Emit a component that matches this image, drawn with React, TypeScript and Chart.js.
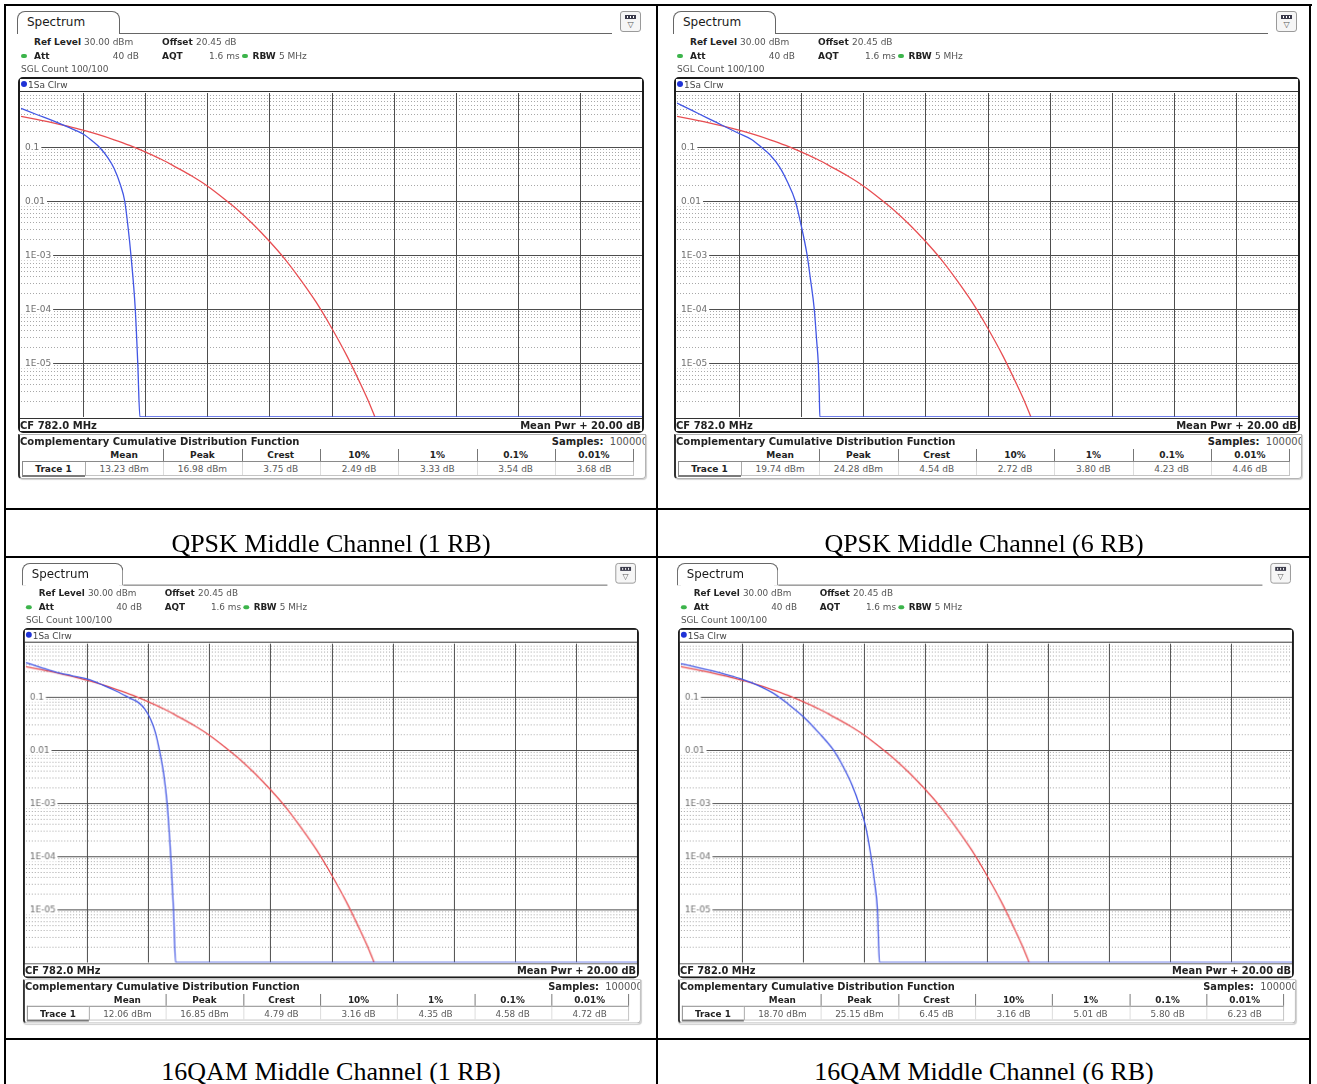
import React, { useEffect, useRef } from "react";
import { Chart, registerables } from "chart.js";

Chart.register(...registerables);

// ---------------- data ----------------
const xMinDb = 0;
const xMaxDb = 20;
const yMinProb = 1e-6;
const yMaxProb = 1;
const xMajorDb = [2, 4, 6, 8, 10, 12, 14, 16, 18];
const yTickValues = [0.1, 0.01, 1e-3, 1e-4, 1e-5];
const yTickLabels = ["0.1", "0.01", "1E-03", "1E-04", "1E-05"];
const yMinorFactors = [2, 3, 4, 5, 6, 7, 8, 9];
const yDecadeExps = [-6, -5, -4, -3, -2, -1];

// Gaussian reference trace (red)
const gaussDb = [0, 0.5, 1, 1.5, 2, 2.5, 3, 3.5, 4, 4.5, 5, 5.5, 6, 6.5, 7, 7.5, 8, 8.5, 9, 9.5, 10, 10.5, 11, 11.2, 11.4];
const gaussProb = [0.37, 0.326, 0.284, 0.243, 0.205, 0.169, 0.136, 0.107, 0.081, 0.06, 0.042, 0.029, 0.019, 0.0115, 0.0067, 0.0036, 0.0018, 0.00084, 0.00035, 0.000135, 0.000045, 0.0000134, 0.0000034, 0.0000019, 0.000001];

// Measured traces (blue)
const qpsk1Db = [0, 0.5, 1, 1.5, 2, 2.3, 2.52, 2.8, 3.0, 3.2, 3.34, 3.45, 3.54, 3.68, 3.76, 3.83, 20];
const qpsk1Prob = [0.52, 0.4, 0.31, 0.235, 0.174, 0.129, 0.1, 0.063, 0.04, 0.02, 0.01, 0.0032, 0.001, 0.0001, 0.00001, 0.000001, 0.000001];

const qpsk6Db = [0, 0.5, 1, 1.5, 2, 2.4, 2.71, 3.0, 3.3, 3.55, 3.81, 4.0, 4.19, 4.3, 4.42, 4.5, 4.55, 4.58, 4.6, 20];
const qpsk6Prob = [0.65, 0.47, 0.34, 0.245, 0.178, 0.138, 0.1, 0.071, 0.043, 0.023, 0.01, 0.0035, 0.001, 0.00035, 0.0001, 0.000025, 0.00001, 0.0000032, 0.000001, 0.000001];

const qam1Db = [0, 0.5, 1, 1.5, 2, 2.5, 3.0, 3.4, 3.7, 3.9, 4.08, 4.24, 4.37, 4.51, 4.62, 4.74, 4.83, 4.9, 20];
const qam1Prob = [0.44, 0.355, 0.29, 0.25, 0.216, 0.168, 0.125, 0.095, 0.077, 0.058, 0.038, 0.021, 0.0098, 0.0035, 0.001, 0.0001, 0.00001, 0.000001, 0.000001];

const qam6Db = [0, 0.5, 1, 1.5, 2, 2.5, 3.08, 3.5, 4.0, 4.5, 5.0, 5.3, 5.6, 5.85, 6.05, 6.22, 6.34, 6.43, 6.5, 20];
const qam6Prob = [0.42, 0.363, 0.31, 0.26, 0.214, 0.166, 0.112, 0.074, 0.0427, 0.0214, 0.0098, 0.005, 0.0022, 0.00089, 0.00035, 0.0001, 0.0000316, 0.00001, 0.000001, 0.000001];

// Result tables
const statHeaders = ["Mean", "Peak", "Crest", "10%", "1%", "0.1%", "0.01%"];
const qpsk1Stats = ["13.23 dBm", "16.98 dBm", "3.75 dB", "2.49 dB", "3.33 dB", "3.54 dB", "3.68 dB"];
const qpsk6Stats = ["19.74 dBm", "24.28 dBm", "4.54 dB", "2.72 dB", "3.80 dB", "4.23 dB", "4.46 dB"];
const qam1Stats = ["12.06 dBm", "16.85 dBm", "4.79 dB", "3.16 dB", "4.35 dB", "4.58 dB", "4.72 dB"];
const qam6Stats = ["18.70 dBm", "25.15 dBm", "6.45 dB", "3.16 dB", "5.01 dB", "5.80 dB", "6.23 dB"];

const captions = [
  "QPSK Middle Channel (1 RB)",
  "QPSK Middle Channel (6 RB)",
  "16QAM Middle Channel (1 RB)",
  "16QAM Middle Channel (6 RB)",
];

// ---------------- styles ----------------
const FONT = '"DejaVu Sans", Verdana, sans-serif';
const RED = "rgb(232, 78, 82)";
const BLUE = "rgb(66, 86, 228)";

const gridPlugin = {
  id: "ccdfGrid",
  beforeDraw(chart: any) {
    const { ctx, chartArea: a, scales } = chart;
    const x = scales.x;
    const y = scales.y;
    ctx.save();
    ctx.fillStyle = "#ffffff";
    ctx.fillRect(0, 0, chart.width, chart.height);
    // minor dotted lines
    ctx.strokeStyle = "#a8a8a8";
    ctx.lineWidth = 1;
    ctx.setLineDash([1, 2]);
    for (const e of yDecadeExps) {
      for (const k of yMinorFactors) {
        const py = Math.round(y.getPixelForValue(k * Math.pow(10, e))) + 0.5;
        ctx.beginPath();
        ctx.moveTo(a.left, py);
        ctx.lineTo(a.right, py);
        ctx.stroke();
      }
    }
    ctx.setLineDash([]);
    // major lines
    ctx.strokeStyle = "#4e4e4e";
    for (const v of yTickValues) {
      const py = Math.round(y.getPixelForValue(v)) + 0.5;
      ctx.beginPath();
      ctx.moveTo(a.left, py);
      ctx.lineTo(a.right, py);
      ctx.stroke();
    }
    for (const d of xMajorDb) {
      const px = Math.round(x.getPixelForValue(d)) + 0.5;
      ctx.beginPath();
      ctx.moveTo(px, a.top);
      ctx.lineTo(px, a.bottom);
      ctx.stroke();
    }
    // tick labels with white backdrop
    ctx.font = '9px "DejaVu Sans"';
    ctx.textBaseline = "middle";
    ctx.textAlign = "left";
    yTickValues.forEach((v, i) => {
      const py = Math.round(y.getPixelForValue(v)) + 0.5;
      const label = yTickLabels[i];
      const w = ctx.measureText(label).width;
      ctx.fillStyle = "#ffffff";
      ctx.fillRect(a.left, py - 5, w + 6, 10);
      ctx.fillStyle = "#707070";
      ctx.fillText(label, a.left + 4, py);
    });
    ctx.restore();
  },
};

function CcdfChart({ blueDb, blueProb }: { blueDb: number[]; blueProb: number[] }) {
  const ref = useRef<HTMLCanvasElement | null>(null);
  useEffect(() => {
    if (!ref.current) return;
    const chart = new Chart(ref.current, {
      type: "line",
      data: {
        datasets: [
          {
            data: blueDb.map((d, i) => ({ x: d, y: blueProb[i] })),
            borderColor: BLUE,
            borderWidth: 1.3,
            pointRadius: 0,
            fill: false,
            cubicInterpolationMode: "monotone",
          },
          {
            data: gaussDb.map((d, i) => ({ x: d, y: gaussProb[i] })),
            borderColor: RED,
            borderWidth: 1.3,
            pointRadius: 0,
            fill: false,
            cubicInterpolationMode: "monotone",
          },
        ],
      },
      options: {
        animation: false,
        responsive: false,
        maintainAspectRatio: false,
        events: [],
        layout: { padding: 2 },
        plugins: { legend: { display: false }, tooltip: { enabled: false } },
        scales: {
          x: { type: "linear", min: xMinDb, max: xMaxDb, display: false },
          y: { type: "logarithmic", min: yMinProb, max: yMaxProb, display: false },
        },
      },
      plugins: [gridPlugin],
    } as any);
    return () => chart.destroy();
  }, [blueDb, blueProb]);
  return (
    <canvas
      ref={ref}
      width={625}
      height={328}
      style={{ position: "absolute", left: 5, top: 81, width: 625, height: 328, zIndex: 1 }}
    />
  );
}

type TxtProps = {
  x: number;
  y: number;
  text: string;
  bold?: boolean;
  size?: number;
  color?: string;
  anchor?: "start" | "end" | "middle";
};

function Txt({ x, y, text, bold, size = 9, color = "#222", anchor = "start" }: TxtProps) {
  const lh = Math.round(size * 1.3);
  const style: React.CSSProperties = {
    position: "absolute",
    top: y - lh / 2,
    height: lh,
    lineHeight: lh + "px",
    fontSize: size,
    fontWeight: bold ? 700 : 400,
    color,
    whiteSpace: "nowrap",
    zIndex: 3,
  };
  if (anchor === "start") style.left = x;
  else if (anchor === "end") {
    style.left = x - 300;
    style.width = 300;
    style.textAlign = "right";
  } else {
    style.left = x - 100;
    style.width = 200;
    style.textAlign = "center";
  }
  return <div style={style}>{text}</div>;
}

function Box({ s }: { s: React.CSSProperties }) {
  return <div style={{ position: "absolute", boxSizing: "border-box", ...s }} />;
}

type PanelProps = {
  left: number;
  top: number;
  scale: number;
  blueDb: number[];
  blueProb: number[];
  stats: string[];
};

const COL0 = 71;
const COLW = 78.3;

function Panel({ left, top, scale, blueDb, blueProb, stats }: PanelProps) {
  return (
    <div
      style={{
        position: "absolute",
        left,
        top,
        width: 636,
        height: 472,
        transform: `scale(${scale})`,
        transformOrigin: "0 0",
        fontFamily: FONT,
        fontSize: 9,
        color: "#222",
      }}
    >
      {/* tab */}
      <Box
        s={{
          left: 3,
          top: 1,
          width: 103,
          height: 23,
          borderTop: "1px solid #666",
          borderLeft: "1px solid #666",
          borderRight: "1px solid #666",
          borderRadius: "8px 8px 0 0",
          background: "#fff",
        }}
      />
      <Txt x={13} y={12} text="Spectrum" size={12} color="#1a1a1a" />
      <Box s={{ left: 106, top: 23, width: 492, height: 1, background: "#666" }} />
      {/* icon */}
      <Box
        s={{
          left: 606,
          top: 1,
          width: 21,
          height: 21,
          border: "1px solid #9a9a9a",
          borderRadius: 3,
          background: "#f6f6f6",
        }}
      />
      <Box s={{ left: 611, top: 5, width: 11, height: 4, background: "#3a3a4a" }} />
      <Box s={{ left: 613, top: 6, width: 1, height: 2, background: "#fff" }} />
      <Box s={{ left: 616, top: 6, width: 1, height: 2, background: "#fff" }} />
      <Box s={{ left: 619, top: 6, width: 1, height: 2, background: "#fff" }} />
      <Txt x={616.5} y={15} text="▽" size={8} color="#555" anchor="middle" />

      {/* header info */}
      <Txt x={20} y={32} text="Ref Level" bold />
      <Txt x={70} y={32} text="30.00 dBm" color="#555" />
      <Txt x={148} y={32} text="Offset" bold />
      <Txt x={182} y={32} text="20.45 dB" color="#555" />
      <Box s={{ left: 7, top: 44, width: 6, height: 4, borderRadius: 2, background: "#3cb44b" }} />
      <Txt x={20} y={46} text="Att" bold />
      <Txt x={125} y={46} text="40 dB" color="#555" anchor="end" />
      <Txt x={148} y={46} text="AQT" bold />
      <Txt x={195} y={46} text="1.6 ms" color="#555" />
      <Box s={{ left: 228, top: 44, width: 6, height: 4, borderRadius: 2, background: "#3cb44b" }} />
      <Txt x={238.5} y={46} text="RBW" bold />
      <Txt x={265} y={46} text="5 MHz" color="#555" />
      <Txt x={7} y={59} text="SGL Count 100/100" color="#555" />

      {/* graph frame */}
      <CcdfChart blueDb={blueDb} blueProb={blueProb} />
      <Box
        s={{
          left: 4,
          top: 67,
          width: 626,
          height: 356,
          border: "2px solid #1c1c1c",
          borderRadius: 5,
          zIndex: 2,
          pointerEvents: "none",
        }}
      />
      <Box s={{ left: 6, top: 69, width: 622, height: 12, background: "#fff", zIndex: 2 }} />
      <Box s={{ left: 6.5, top: 71, width: 6, height: 6, borderRadius: 3, background: "#1f32d6", zIndex: 3 }} />
      <Txt x={14} y={74.5} text="1Sa Clrw" color="#444" />
      <Box s={{ left: 6, top: 81, width: 622, height: 1, background: "#333", zIndex: 2 }} />
      <Box s={{ left: 6, top: 408, width: 622, height: 1, background: "#333", zIndex: 2 }} />
      <Box s={{ left: 6, top: 409, width: 622, height: 12, background: "#fff", zIndex: 2 }} />
      <Txt x={6} y={415} text="CF 782.0 MHz" bold size={10} />
      <Txt x={627} y={415} text="Mean Pwr + 20.00 dB" bold size={10} anchor="end" />

      {/* result table */}
      <div
        style={{
          position: "absolute",
          left: 4,
          top: 424,
          width: 628,
          height: 45,
          boxSizing: "border-box",
          border: "1px solid #b4b4b4",
          borderLeft: "2px solid #333",
          borderRadius: "0 0 4px 4px",
          boxShadow: "1px 1px 1px #d0d0d0",
          overflow: "hidden",
        }}
      >
        <div
          style={{
            position: "absolute",
            right: -3,
            top: 1,
            lineHeight: "12px",
            whiteSpace: "nowrap",
            fontSize: 10,
          }}
        >
          <span style={{ fontWeight: 700, color: "#222" }}>Samples:</span>
          <span style={{ color: "#555" }}>&nbsp;&nbsp;100000</span>
        </div>
      </div>
      <Txt x={6} y={431} text="Complementary Cumulative Distribution Function" bold size={10} />
      {statHeaders.map((h, i) => (
        <Txt key={"h" + i} x={COL0 + COLW * (i + 0.5)} y={445} text={h} bold anchor="middle" />
      ))}
      {statHeaders.map((_, i) => (
        <Box key={"hs" + i} s={{ left: COL0 + COLW * (i + 1), top: 439, width: 1, height: 12, background: "#777" }} />
      ))}
      <Box s={{ left: COL0, top: 451, width: COLW * 7 + 1, height: 1, background: "#8a8a8a" }} />
      <Box
        s={{
          left: COL0,
          top: 452,
          width: COLW * 7 + 1,
          height: 14,
          borderLeft: "1px solid #aaa",
          borderRight: "1px solid #c4c4c4",
          borderBottom: "1px solid #c4c4c4",
        }}
      />
      {statHeaders.slice(0, 6).map((_, i) => (
        <Box key={"vs" + i} s={{ left: COL0 + COLW * (i + 1), top: 452, width: 1, height: 13, background: "#dcdcdc" }} />
      ))}
      {stats.map((v, i) => (
        <Txt key={"v" + i} x={COL0 + COLW * (i + 0.5)} y={459} text={v} color="#5a5a5a" anchor="middle" />
      ))}
      <Box
        s={{
          left: 8,
          top: 451,
          width: 63,
          height: 16,
          borderTop: "1px solid #8a8a8a",
          borderLeft: "1px solid #8a8a8a",
          borderBottom: "2px solid #7a7a7a",
        }}
      />
      <Txt x={39.5} y={459} text="Trace 1" bold anchor="middle" />
    </div>
  );
}

function Line({ l, t, w, h }: { l: number; t: number; w: number; h: number }) {
  return <div style={{ position: "absolute", left: l, top: t, width: w, height: h, background: "#000" }} />;
}

function Caption({ cx, top, text }: { cx: number; top: number; text: string }) {
  return (
    <div
      style={{
        position: "absolute",
        left: cx - 300,
        width: 600,
        top,
        height: 26,
        lineHeight: "26px",
        textAlign: "center",
        fontFamily: '"Liberation Serif", "Times New Roman", serif',
        fontSize: 26,
        color: "#000",
        whiteSpace: "nowrap",
      }}
    >
      {text}
    </div>
  );
}

export default function App() {
  return (
    <div
      style={{
        position: "absolute",
        left: 0,
        top: 0,
        width: 1317,
        height: 1084,
        overflow: "hidden",
        background: "#fff",
      }}
    >
      <Panel left={14} top={10} scale={1} blueDb={qpsk1Db} blueProb={qpsk1Prob} stats={qpsk1Stats} />
      <Panel left={670} top={10} scale={1} blueDb={qpsk6Db} blueProb={qpsk6Prob} stats={qpsk6Stats} />
      <Panel left={19} top={562} scale={0.984} blueDb={qam1Db} blueProb={qam1Prob} stats={qam1Stats} />
      <Panel left={674} top={562} scale={0.984} blueDb={qam6Db} blueProb={qam6Prob} stats={qam6Stats} />

      {/* document table lines */}
      <Line l={4} t={4} w={1308} h={2} />
      <Line l={4} t={4} w={2} h={1080} />
      <Line l={1309} t={4} w={2} h={1080} />
      <Line l={656} t={4} w={2} h={1080} />
      <Line l={4} t={508} w={1307} h={2} />
      <Line l={4} t={556} w={1307} h={2} />
      <Line l={4} t={1038} w={1307} h={2} />

      <Caption cx={331} top={531} text={captions[0]} />
      <Caption cx={984} top={531} text={captions[1]} />
      <Caption cx={331} top={1059} text={captions[2]} />
      <Caption cx={984} top={1059} text={captions[3]} />
    </div>
  );
}
